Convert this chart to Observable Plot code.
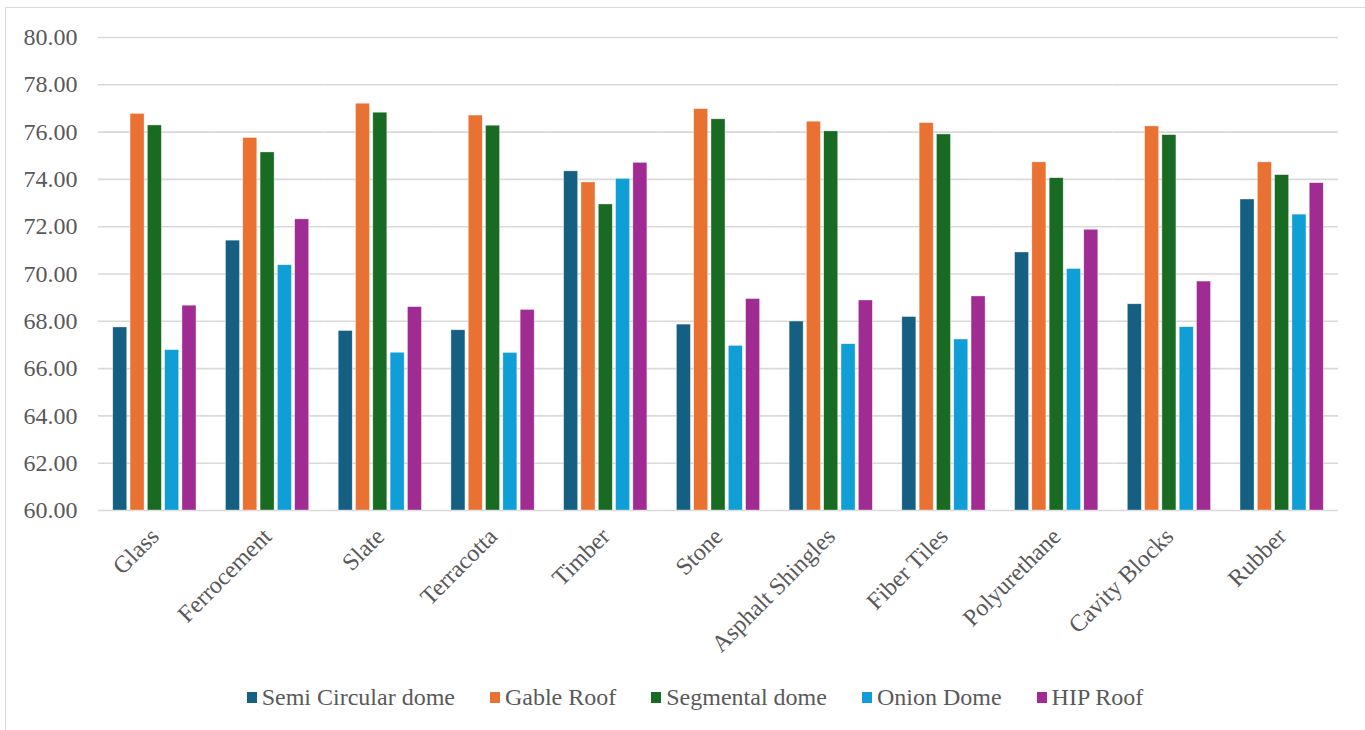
<!DOCTYPE html>
<html>
<head>
<meta charset="utf-8">
<script src="https://cdn.jsdelivr.net/npm/d3@7"></script>
<script src="https://cdn.jsdelivr.net/npm/@observablehq/plot@0.6"></script>
<style>
  html, body { margin: 0; padding: 0; background: #fff; overflow: hidden; }
  #wrap { position: relative; width: 1365px; height: 730px; }
  #frame { position: absolute; left: 5px; top: 7px; width: 1364px; height: 740px; border: 1.5px solid #d9d9d9; box-sizing: border-box; }
  #chart { position: absolute; left: 0; top: 0; }
  #legend { position: absolute; left: 15px; width: 1360px; top: 684px; display: flex; justify-content: center; gap: 35px;
            font-family: "Times New Roman", "Liberation Serif", serif; font-size: 24px; color: #595959; }
  .item { display: flex; align-items: center; gap: 5px; white-space: nowrap; }
  .sw { width: 10px; height: 11px; display: inline-block; }
</style>
</head>
<body>
<div id="wrap">
  <div id="frame"></div>
  <div id="chart"></div>
  <div id="legend"></div>
</div>
<script>
const categories = ["Glass","Ferrocement","Slate","Terracotta","Timber","Stone","Asphalt Shingles","Fiber Tiles","Polyurethane","Cavity Blocks","Rubber"];
const seriesNames = ["Semi Circular dome","Gable Roof","Segmental dome","Onion Dome","HIP Roof"];
const semiCircular = [67.74, 71.41, 67.59, 67.62, 74.34, 67.86, 67.99, 68.18, 70.91, 68.72, 73.15];
const gableRoof    = [76.77, 75.75, 77.20, 76.70, 73.87, 76.97, 76.44, 76.38, 74.72, 76.24, 74.72];
const segmental    = [76.28, 75.14, 76.82, 76.27, 72.94, 76.54, 76.03, 75.90, 74.05, 75.87, 74.18];
const onionDome    = [66.78, 70.37, 66.67, 66.66, 74.02, 66.96, 67.03, 67.23, 70.21, 67.75, 72.51];
const hipRoof      = [68.66, 72.31, 68.60, 68.48, 74.70, 68.94, 68.88, 69.05, 71.87, 69.68, 73.84];
const yTicks = [60, 62, 64, 66, 68, 70, 72, 74, 76, 78, 80];

const colors = ["#156082", "#E97132", "#196B24", "#0F9ED5", "#A02B93"];
const seriesValues = [semiCircular, gableRoof, segmental, onionDome, hipRoof];

const data = [];
categories.forEach((c, i) => {
  seriesNames.forEach((s, j) => data.push({category: c, series: s, value: seriesValues[j][i]}));
});

const font = '"Times New Roman", "Liberation Serif", serif';

const chart = Plot.plot({
  width: 1365,
  height: 680,
  marginTop: 37,
  marginLeft: 98,
  marginRight: 27,
  marginBottom: 170,
  style: {fontFamily: font, color: "#595959", background: "transparent"},
  fx: {domain: categories, padding: 0, round: false},
  x: {domain: seriesNames, paddingInner: 0.19, paddingOuter: 0.852, round: false, axis: null},
  y: {domain: [60, 80]},
  color: {domain: seriesNames, range: colors},
  marks: [
    Plot.gridY(yTicks, {stroke: "#d9d9d9", strokeOpacity: 1, strokeWidth: 1.6}),
    Plot.barY(data, {fx: "category", x: "series", y1: 60, y2: "value", fill: "series", stroke: "white", strokeWidth: 0.6, strokeOpacity: 0.6}),
    Plot.axisY({ticks: yTicks, tickFormat: d => d.toFixed(2), tickSize: 0, tickPadding: 21, fontSize: 24, label: null}),
    Plot.axisFx({anchor: "bottom", tickRotate: -45, tickSize: 0, tickPadding: 22, fontSize: 24, label: null})
  ]
});
document.getElementById("chart").appendChild(chart);

const legend = document.getElementById("legend");
seriesNames.forEach((s, j) => {
  const it = document.createElement("div");
  it.className = "item";
  const sw = document.createElement("span");
  sw.className = "sw";
  sw.style.background = colors[j];
  const tx = document.createElement("span");
  tx.textContent = s;
  it.appendChild(sw);
  it.appendChild(tx);
  legend.appendChild(it);
});
</script>
</body>
</html>
